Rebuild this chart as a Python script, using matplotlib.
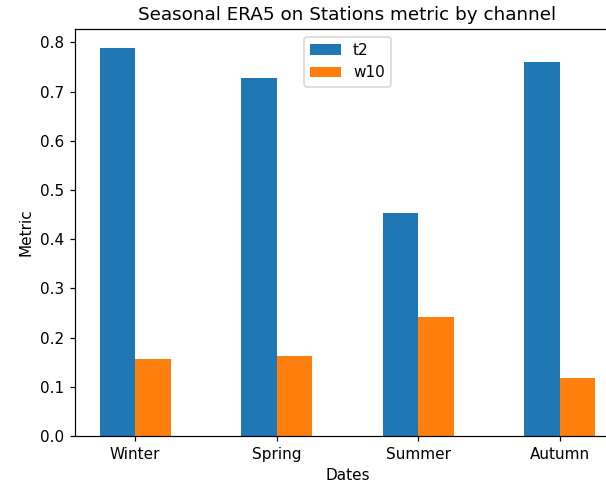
import matplotlib
matplotlib.use("Agg")
import matplotlib.pyplot as plt
import numpy as np

seasons = ["Winter", "Spring", "Summer", "Autumn"]
t2 = [0.788, 0.727, 0.454, 0.760]
w10 = [0.156, 0.162, 0.241, 0.117]

DPI = 110
fig = plt.figure(figsize=(606 / DPI, 483 / DPI), dpi=DPI)
ax = fig.add_axes([75 / 606, 47 / 483, 545 / 606, 407 / 483])

x = np.arange(len(seasons))
width = 0.25
ax.bar(x - width / 2, t2, width, label="t2", color="#1f77b4")
ax.bar(x + width / 2, w10, width, label="w10", color="#ff7f0e")
ax.set_xticks(x)
ax.set_xticklabels(seasons)
ax.set_xlabel("Dates")
ax.set_ylabel("Metric")
ax.set_title("Seasonal ERA5 on Stations metric by channel")
ax.legend(loc="upper center")

fig.savefig("out.png", dpi=DPI)
